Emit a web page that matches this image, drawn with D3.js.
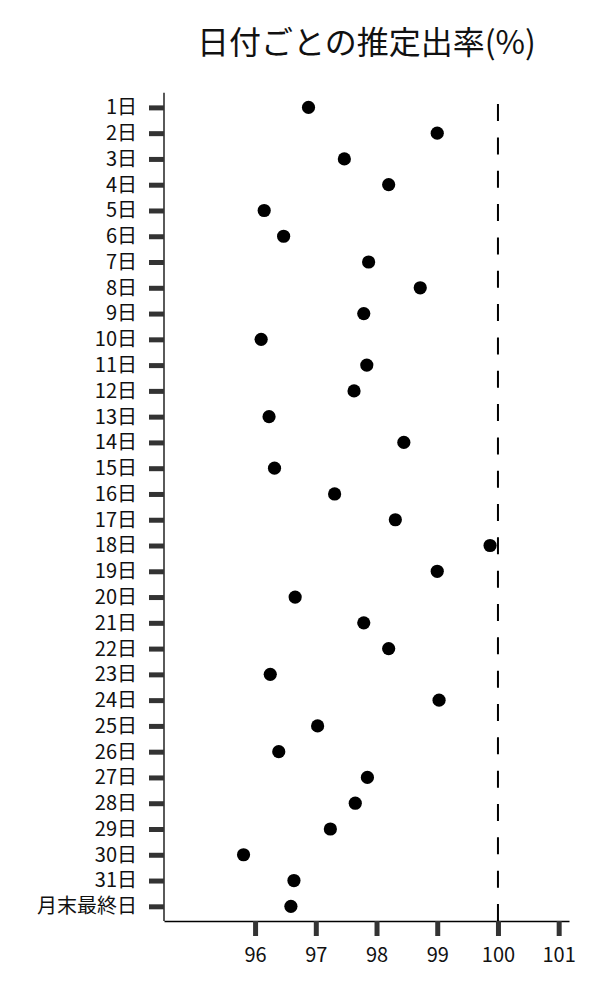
<!DOCTYPE html>
<html>
<head>
<meta charset="utf-8">
<script src="https://cdn.jsdelivr.net/npm/d3@7"></script>
<style>
  body { margin: 0; background: #fff; }
  svg text { font-family: "Noto Sans CJK JP", "Noto Sans", sans-serif; fill: #111; }
  .axis .domain { stroke: #000; stroke-width: 1.3; }
  .axis .tick line { stroke: #333; stroke-width: 5; }
  .axis .tick text { font-size: 20px; }
</style>
</head>
<body>
<svg width="600" height="1000"></svg>
<script>
// categories (days) and estimated rate per day (%)
var days = ['1日','2日','3日','4日','5日','6日','7日','8日','9日','10日',
    '11日','12日','13日','14日','15日','16日','17日','18日','19日','20日',
    '21日','22日','23日','24日','25日','26日','27日','28日','29日','30日',
    '31日','月末最終日'];
var rates = [96.88, 99.00, 97.47, 98.20, 96.15, 96.47, 97.87, 98.72, 97.79, 96.10,
    97.84, 97.63, 96.23, 98.45, 96.32, 97.31, 98.31, 99.87, 99.00, 96.66,
    97.79, 98.20, 96.25, 99.03, 97.03, 96.39, 97.85, 97.65, 97.24, 95.81,
    96.64, 96.59];
var xTicks = [96, 97, 98, 99, 100, 101];
var refValue = 100;
var title = '日付ごとの推定出率(%)';

var svg = d3.select('svg');

// plot area
var plot = {l: 164, r: 569, t: 92.7, b: 921};

var xScale = d3.scaleLinear()
    .domain([94.5, 101.17])
    .range([plot.l, plot.r]);

var yScale = d3.scalePoint()
    .domain(days)
    .range([plot.t, plot.b])
    .padding(0.57);

// title
svg.append('text')
    .attr('x', (plot.l + plot.r) / 2)
    .attr('y', 54)
    .attr('text-anchor', 'middle')
    .style('font-size', '32px')
    .text(title);

// reference line at 100%
svg.append('line')
    .attr('x1', xScale(refValue))
    .attr('x2', xScale(refValue))
    .attr('y1', plot.b)
    .attr('y2', plot.t)
    .attr('stroke', '#000')
    .attr('stroke-width', 2)
    .attr('stroke-dasharray', '17,16.33');

// axes
var xAxis = d3.axisBottom(xScale)
    .tickValues(xTicks)
    .tickFormat(d3.format('d'))
    .tickSize(15)
    .tickSizeOuter(0)
    .tickPadding(12);
svg.append('g')
    .attr('class', 'x axis')
    .attr('transform', 'translate(0,' + plot.b + ')')
    .call(xAxis);

var yAxis = d3.axisLeft(yScale)
    .tickSize(15)
    .tickSizeOuter(0)
    .tickPadding(12);
var yG = svg.append('g')
    .attr('class', 'y axis')
    .attr('transform', 'translate(' + plot.l + ',0)')
    .call(yAxis);
// spine runs the full height of the plot area
yG.select('.domain').attr('d', 'M0,' + plot.t + 'V' + plot.b);

// dots
svg.append('g')
    .selectAll('circle')
    .data(rates)
    .enter()
    .append('circle')
    .attr('cx', function(d) { return xScale(d); })
    .attr('cy', function(d, i) { return yScale(days[i]); })
    .attr('r', 6.6)
    .attr('fill', '#000');
</script>
</body>
</html>
